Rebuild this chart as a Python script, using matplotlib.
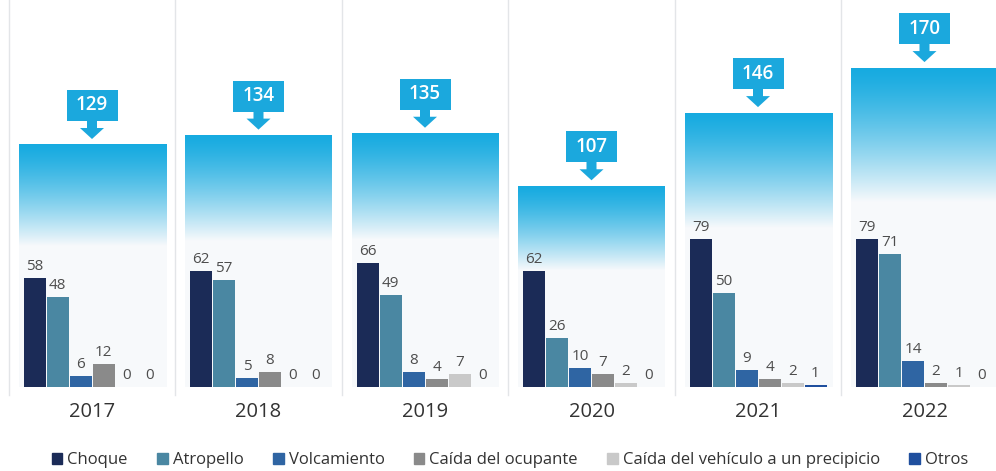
import numpy as np
import matplotlib.pyplot as plt
from matplotlib.patches import Polygon, Rectangle, Patch

plt.rcParams['font.family'] = ['Open Sans', 'DejaVu Sans']

years = ['2017', '2018', '2019', '2020', '2021', '2022']
totals = [129, 134, 135, 107, 146, 170]

categories = ['Choque', 'Atropello', 'Volcamiento', 'Caída del ocupante',
              'Caída del vehículo a un precipicio', 'Otros']
choque = [58, 62, 66, 62, 79, 79]
atropello = [48, 57, 49, 26, 50, 71]
volcamiento = [6, 5, 8, 10, 9, 14]
caida_ocupante = [12, 8, 4, 7, 4, 2]
caida_precipicio = [0, 0, 7, 2, 2, 1]
otros = [0, 0, 0, 0, 1, 0]
series = [choque, atropello, volcamiento, caida_ocupante, caida_precipicio, otros]
colors = ['#1b2b57', '#4a87a2', '#2f65a3', '#8a8a8a', '#c9c9c9', '#1f4f9e']

# pixel scales (figure is 996 x 471 at dpi 100)
XPX = 166.5   # px per group
YPX = 1.876   # px per unit
W, H = 996, 471
BASE = 387    # baseline, px from top
CX0 = 92      # first group centre, px

fig = plt.figure(figsize=(W / 100, H / 100), dpi=100)
ax = fig.add_axes([0, 0, 1, 1])
ax.set_xlim(-CX0 / XPX, (W - CX0) / XPX)
ax.set_ylim(-(H - BASE) / YPX, BASE / YPX)
ax.axis('off')

def px(v):
    return v / XPX

def py(v):
    return v / YPX

# gradient for the total bars
n = 256
t = np.linspace(0, 1, n)
top = np.array([0.09, 0.67, 0.88])
light = np.array([0.972, 0.978, 0.986])
mix = np.clip(t / 0.42, 0, 1) ** 1.3
grad = top[None, :] * (1 - mix[:, None]) + light[None, :] * mix[:, None]
grad = grad[:, None, :]

x = np.arange(len(years))

# separators
for k in range(len(years)):
    ax.plot([k - 0.5, k - 0.5], [py(-8), BASE / YPX], color='#e3e5e8', lw=1, zorder=0)

bg_w = px(147)
for i, tot in enumerate(totals):
    ax.imshow(grad, extent=[x[i] - bg_w / 2, x[i] + bg_w / 2, 0, tot],
              aspect='auto', zorder=1, interpolation='bilinear')

    # callout box with arrow
    c = x[i]
    box_b = tot + py(24)
    box_t = tot + py(55)
    ax.add_patch(Rectangle((c - px(25.5), box_b), px(51), box_t - box_b,
                           color='#1ba8dd', zorder=3, lw=0))
    arrow = [(c - px(5), box_b + 0.5), (c + px(5), box_b + 0.5),
             (c + px(5), tot + py(17)), (c + px(12), tot + py(17)),
             (c, tot + py(6)), (c - px(12), tot + py(17)),
             (c - px(5), tot + py(17))]
    ax.add_patch(Polygon(arrow, closed=True, color='#1ba8dd', zorder=3, lw=0))
    ax.text(c, (box_b + box_t) / 2, str(tot), color='white', fontsize=13.5,
            fontweight='semibold', ha='center', va='center', zorder=4)

    ax.text(c, py(-25), years[i], fontsize=14.5, color='#333333',
            ha='center', va='center')

bar_w = px(22)
for k, (vals, col) in enumerate(zip(series, colors)):
    pos = x + px((k - 2.5) * 23)
    ax.bar(pos, vals, width=bar_w, color=col, zorder=2)
    for p, v in zip(pos, vals):
        ax.text(p, v + py(4), str(v), fontsize=11, color='#4d4d4d',
                ha='center', va='bottom', zorder=4)

handles = [Patch(color=c) for c in colors]
leg = fig.legend(handles, categories, loc='center', ncol=6,
                 bbox_to_anchor=(0.512, (H - 460) / H), frameon=False,
                 fontsize=12, handlelength=0.65, handleheight=0.65,
                 handletextpad=0.3, columnspacing=1.75)
for txt in leg.get_texts():
    txt.set_color('#333333')

fig.savefig('out.png', dpi=100)
